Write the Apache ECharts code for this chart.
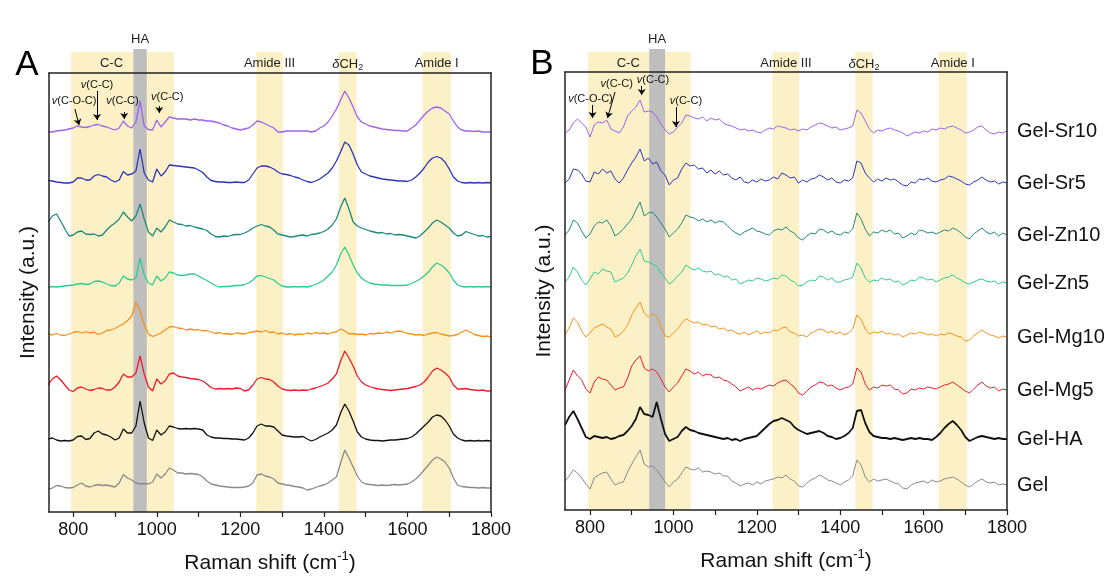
<!DOCTYPE html>
<html>
<head>
<meta charset="utf-8">
<script src="https://cdn.jsdelivr.net/npm/echarts@6/dist/echarts.min.js"></script>
<style>
  html, body { margin: 0; background: #fff; }
  #chart { width: 1110px; height: 588px; }
</style>
</head>
<body>
<div id="chart"></div>
<script>
// samples, top to bottom
var sampleNames = ['Gel-Sr10', 'Gel-Sr5', 'Gel-Zn10', 'Gel-Zn5', 'Gel-Mg10', 'Gel-Mg5', 'Gel-HA', 'Gel'];
var lineColors = ['#9d62ee', '#2b35b8', '#1e8a7e', '#2ecc8f', '#f7921e', '#ec1c2e', '#111111', '#8a8a8a'];

// raman shift sampling: 740..1800 cm-1, every 10
var shiftStart = 740, shiftStep = 10;

// vertical stacking offset of each trace (a.u.)
var offsetsA = [381, 329, 275, 225, 175, 121, 71, 24];
var offsetsB = [377, 327, 275, 227, 173, 120, 71, 25];

// panel A, intensity above each trace's baseline
var sr10A = [-1,-1,0,0.5,1,2,3,5,4,3.5, 4.5,6,6.5,5,4,2.5,1,3,10,5, 3,9,30,5,1.5,1,11,4,9,14,
  13,12,12,12,11,12,11,11,10,10, 9,8,6,5,3,2,1,2,3,6, 10,9,7,5,3,-1,-1,0,0,0,
  0,0,0,-1,0,3,5,9,15,22, 31,40,33,24,14,9,7,5,4,3, 2,1.5,1,0.5,0.5,0,0,3,6,11,
  16,20,23,24,23,20,17,10,4,1, 0,0,-0.5,0,-1,-1,-1];
var sr5A = [2.5,2,1,0.5,0,0,1,5,5,3, 3,7,8.5,7,6,3,1,3,11.5,8, 9,12,34,10,3,1,14,7,11,18,
  17.5,17,16.5,16,15.5,15,13,10.5,6,2.5, 1.5,1,1,0.5,0.5,1,0.5,0.5,3,9, 15,17,17,16,14,11,9,8.5,7.5,6,
  5,3,1.5,0.5,2,4,7,10,15,22, 31,41,38,29,18,11,9,7,6,5, 4,3.5,3,2.5,2,2,1.5,3,6,10,
  15,21,25,26.5,25,21,14,6,2,0.5, 0,0.5,0,0.5,0,0.5,0];
var zn10A = [15,21,23,16,8,1,2,5,6,3, 2.5,3,1,2,7,11,14,18,25,20, 16,21,33,18,5,1,9,5,10,17,
  15,13,12.5,11,11.5,10,9,8,6.5,3, 0.5,0,1,0.5,2,2.5,2.5,4,6,9, 11,12.5,11,10,7,3,2,1,0,0.5,
  1.5,2,1,2.5,3,4,5.5,8,12,18, 30,39,28,15,11,9,7.5,6,5,4, 4.5,3,3.5,2,2.5,2,1,0,-1,1,
  5,9,14,17,15,12,9,4,1,2, 5.5,4,2.5,1,1.5,0,0.5];
var zn5A = [0,0.5,0,0.5,1,1.5,2,3,3.5,2.5, 3,5.5,6,5,3,1.5,1,4,11,8, 7,9,29,12,4,2,11,6,9,15,
  14,12,11.5,12,13,13,11,8.5,6.5,4, 1.5,0,0.5,0.5,1,1.5,1.5,2.5,4,7, 11,11.5,10,8.5,7,3.5,1,0,0,0.5,
  0,0.5,0,1,2.5,4.5,7,11,15,22, 33,40,32,22,14,9,6,4,3,2.5, 2,2,1.5,1.5,1.5,1.5,2,3.5,5.5,8,
  11,15,20,24,22,19,14,7,2,0.5, 0,0.5,0,0.5,0,0.5,0];
var mg10A = [3,2,3.5,2,1.5,3,4.5,5.5,4,5.5, 4,5,2.5,4,6.5,7,8.5,11,13,16.5, 21,35,26,12,3,0.5,2,4,7,10,
  10.5,9,8.5,7,8,7,7.5,6,6.5,5, 3.5,4.5,3,3.5,2.5,4,3.5,3,4.5,5, 6,5,6.5,4.5,5,3,4,2.5,3.5,2,
  3,2.5,4,3,4.5,3.5,4,3,4.5,5, 8,6,3,3.5,2.5,3,2,3.5,3,4, 3.5,5,4,5.5,6,5,3.5,3,2,2.5,
  1.5,3,4,4.5,3,2,1,1.5,2.5,5, 7,5,2.5,1.5,0.5,1,0];
var mg5A = [6,12,15,11,6,1,-0.5,3,4,2, 0.5,1.5,3,2.5,1,1,4,9,17,14, 14,18,35,17,4,0,12,7,10,17,
  18,15,14,13.5,12.5,12,11.5,10,7,3.5, 2,2.5,2,2.5,2,3,2.5,0,1,6, 12,13.5,12,11.5,9,5,2,1,0.5,1,
  0.5,1,0.5,2,3,4.5,6,8,12,17, 30,40,33,25,15,9,6,4.5,3,2, 1.5,1,0.5,1,1.5,2,2.5,3.5,4.5,6,
  9,14,20,23,21,18,14,6,2,2, 2.5,1.5,1,0.5,1,0,0];
var haA = [2,3,1,0,0.5,0,1,4.5,5,1.5, 2.5,8,10,7,6,4,1,3,12,8, 8,15,40,18,3,0.5,11,6,9,15,
  14,12.5,12,12.5,12,12.5,12,11,6,4, 3,3,2.5,2.5,2,2,1.5,1,3,8, 15,17,15,15,14,10,6,5,4.5,4,
  4,4.5,2,0,1.5,4,6,8,11,16, 28,37,30,20,9,4,2,1,0.5,0.5, 0,0.5,1,1,1.5,2,2.5,4,7,11,
  15,19,24,26,25,21,15,7,3,1, 0,0.5,0,0.5,0,0.5,0];
var gelA = [-1.5,0,2.5,2,0.5,0,0.5,3,5,2, 1,2.5,3.5,2.5,3,2,1,5,13.5,10, 8,5,4,4.5,4,6,14,10,14,20,
  18,15,15,14,14.5,14,13.5,11,7,4, 3,2,1.5,1,0.5,0.5,0.5,1,2,5, 13,14,12,11,9,5,4,3,2.5,1.5,
  1,0,-2,-1,0.5,2,3,5,8,11, 25,38,30,21,12,6,4,3.5,3,2.5, 3,2.5,3,3.5,3,3.5,4,6,9,13,
  18,23,28,31,29,26,20,10,3,1.5, 1,0.5,0.5,0,0.5,0,0];

// panel B, intensity above each trace's baseline
var sr10B = [0,3,10,14,10,6,-4,8,11,10, 13,4,2,0,6,17,22,26,33,21, 22,21,16,9,3,-1,1,6,10,18,
  17,15,14,16,12,15,13,14,10,8, 7,5,3,4,2,3,1,0,3,5, 4,7,6,5,3,4,2,4,3,6,
  8,10,9,7,5,6,3,4,5,7, 23,20,12,4,0,3,2,4,5,3, 2,0,-3,-1,1,0,2,1,4,3,
  5,4,6,7,5,3,0,1,3,6, 7,3,0,-1,1,0,2];
var sr5B = [0,4,14,13,9,2,1,11,9,14, 10,12,4,0,5,13,20,26,34,22, 25,19,21,12,8,-2,3,5,14,20,
  17,18,14,15,10,13,9,12,8,9, 5,3,6,1,0,3,1,4,2,3, 6,4,10,8,5,6,0,3,1,4,
  5,8,6,3,5,1,0,3,2,5, 22,20,10,5,1,4,2,5,3,4, 1,-2,-3,1,0,4,3,5,2,1,
  3,4,7,6,4,2,-1,-2,1,3, 6,3,1,2,-1,1,0];
var zn10B = [0,5,15,12,4,-3,1,9,13,12, 15,9,-1,2,6,11,16,25,33,19, 22,23,18,12,6,-2,2,6,12,20,
  18,17,14,16,13,15,12,14,13,9, 5,2,0,3,5,7,4,3,1,0, 4,6,5,8,4,2,-3,-5,-1,2,
  1,6,5,2,4,1,0,3,2,6, 22,16,6,-1,3,2,5,3,5,1, 2,-3,-1,2,0,5,4,2,3,1,
  3,5,4,7,5,2,-2,-4,1,4, 7,3,1,3,-1,2,0];
var zn5B = [1,6,16,11,3,-2,4,11,9,14, 12,11,1,3,5,10,18,27,34,22, 21,19,17,10,5,-1,2,7,11,18,
  15,13,15,12,11,12,8,9,6,7, 3,4,-1,1,3,2,5,4,2,3, 5,4,8,7,3,1,-3,-2,1,3,
  2,7,6,3,5,1,1,3,4,6, 20,15,5,1,3,2,5,3,4,1, 2,-2,0,3,2,6,5,3,4,1,
  3,5,6,8,5,3,0,-1,1,3, 4,2,1,2,-1,1,0];
var mg10B = [2,9,19,15,6,0,4,9,11,13, 10,8,0,2,6,12,22,29,35,24, 20,23,20,10,1,0,4,8,14,18,
  16,14,15,12,13,10,11,8,9,6, 7,4,3,5,2,4,6,3,5,4, 7,6,9,10,5,4,1,2,0,4,
  6,8,7,4,6,3,5,2,4,8, 22,18,8,3,5,4,6,3,4,2, 3,0,2,4,3,5,4,2,3,1,
  3,2,4,3,1,0,-4,-3,1,4, 7,4,2,1,-1,1,0];
var mg5B = [0,10,20,14,10,1,-3,8,13,11, 10,5,0,2,3,12,24,30,34,22, 19,21,18,11,3,-2,3,7,14,21,
  19,16,18,14,16,15,12,13,10,9, 6,3,-1,1,3,0,2,1,3,5, 4,7,9,10,6,3,-3,-5,-1,3,
  5,8,7,4,5,2,0,2,3,6, 22,18,6,0,3,2,5,4,5,1, 0,-4,-3,1,0,2,1,3,2,1,
  3,5,6,8,5,2,-1,-3,1,5, 8,4,2,3,-1,1,0];
var haB = [14,22,28,20,11,2,0,3,2,1, 2,0,1,3,4,8,13,20,32,25, 24,22,37,20,5,-2,0,2,8,12,
  9,8,6,5,4,3,2,1,0,1, -1,0,-2,0,1,2,3,7,11,15, 18,19,21,19,17,12,9,7,5,6,
  7,8,6,3,2,0,1,3,6,11, 28,29,16,7,3,2,1,1,0,1, 0,-1,0,1,0,1,0,0,-1,2,
  6,11,15,18,14,9,2,-2,0,2, 3,2,1,0,1,0,0];
var gelB = [4,9,15,12,7,1,-4,7,10,12, 13,6,0,2,3,13,21,28,35,21, 18,19,15,9,3,-2,3,6,12,18,
  16,15,17,13,14,13,11,12,9,9, 4,2,-1,1,2,0,3,1,4,5, 6,8,7,10,6,4,-1,-2,2,5,
  7,10,8,5,4,2,0,3,5,9, 25,20,8,3,6,4,5,6,4,2, 1,-3,-4,0,2,3,4,2,5,3,
  4,6,7,8,6,3,0,-2,1,4, 6,3,2,3,0,1,0];

var tracesA = [sr10A, sr5A, zn10A, zn5A, mg10A, mg5A, haA, gelA];
var tracesB = [sr10B, sr5B, zn10B, zn5B, mg10B, mg5B, haB, gelB];

// highlighted bands [from, to, label]
var bandRanges = [[795, 1041, 'C-C'], [1238, 1302, 'Amide III'], [1436, 1478, '{i|δ}CH{s|2}'], [1636, 1704, 'Amide I']];
var haRangeA = [944, 976];
var haRangeB = [942, 980];

var tickValues = [800, 900, 1000, 1100, 1200, 1300, 1400, 1500, 1600, 1700, 1800];
var labelValues = [800, 1000, 1200, 1400, 1600, 1800];

// peak annotations: arrows [from, to] and texts [x, y, text]
var arrowsA = [[[804, 403], [814, 387]], [[857, 421], [857, 392]], [[922, 400], [922, 393]], [[1006, 406], [1006, 399]]];
var arrowTextsA = [[802, 411, '{i|v}(C-O-C)'], [857, 427, '{i|v}(C-C)'], [918, 411, '{i|v}(C-C)'], [1025, 415, '{i|v}(C-C)']];
var arrowsB = [[[806, 405], [806, 392]], [[860, 418], [842, 392]], [[924, 424], [924, 415]], [[1006, 403], [1006, 383]]];
var arrowTextsB = [[801, 411, '{i|v}(C-O-C)'], [864, 426, '{i|v}(C-C)'], [951, 430, '{i|v}(C-C)'], [1030, 409, '{i|v}(C-C)']];

var FONT = 'Liberation Sans, Arial, sans-serif';
var YELLOW = '#fcf1c6';
var GRAY = '#bebebe';

function toPairs(heights, base) {
  return heights.map(function (h, i) {
    return [shiftStart + i * shiftStep, base + h];
  });
}

function mainAxes(grid, xmin, ymax) {
  var xs = [{
    type: 'value', gridIndex: grid, min: xmin, max: 1800, z: 5,
    axisLine: {show: true, lineStyle: {color: '#222', width: 1.5}},
    axisTick: {show: true, inside: false, length: 5, customValues: tickValues, lineStyle: {color: '#222', width: 1.2}},
    axisLabel: {
      show: true, customValues: labelValues, fontSize: 18, color: '#111', margin: 9,
      formatter: function (v) { return String(v); }
    },
    splitLine: {show: false},
    name: '{n|Raman shift (cm}{sup|-1}{n|)}',
    nameLocation: 'middle', nameGap: 38,
    nameTextStyle: {
      rich: {
        n: {fontSize: 21, color: '#111', lineHeight: 26, fontFamily: FONT},
        sup: {fontSize: 13, color: '#111', verticalAlign: 'top', lineHeight: 14, fontFamily: FONT}
      }
    }
  }, {
    type: 'value', gridIndex: grid, min: xmin, max: 1800, position: 'top', z: 5,
    axisLine: {show: true, onZero: false, lineStyle: {color: '#222', width: 1.5}},
    axisTick: {show: false}, axisLabel: {show: false}, splitLine: {show: false}
  }];
  var ys = [{
    type: 'value', gridIndex: grid, min: 0, max: ymax, z: 5,
    axisLine: {show: true, onZero: false, lineStyle: {color: '#222', width: 1.5}},
    axisTick: {show: false}, axisLabel: {show: false}, splitLine: {show: false},
    name: 'Intensity (a.u.)', nameLocation: 'middle', nameGap: 10,
    nameTextStyle: {fontSize: 21, color: '#111'}
  }, {
    type: 'value', gridIndex: grid, min: 0, max: ymax, position: 'right', z: 5,
    axisLine: {show: true, onZero: false, lineStyle: {color: '#222', width: 1.5}},
    axisTick: {show: false}, axisLabel: {show: false}, splitLine: {show: false}
  }];
  return {x: xs, y: ys};
}

function bandAxes(grid, xmin, ymax) {
  return {
    x: [{type: 'value', gridIndex: grid, min: xmin, max: 1800, show: false}],
    y: [{type: 'value', gridIndex: grid, min: 0, max: ymax, show: false}]
  };
}

function bandSeries(axisIdx, haRange, yellowTop, grayTop) {
  var areas = bandRanges.map(function (b, i) {
    var first = {name: b[2], xAxis: b[0], yAxis: 0, itemStyle: {color: YELLOW}};
    if (i === 0) first.label = {offset: [-11, 0]};
    return [first, {xAxis: b[1], yAxis: yellowTop}];
  });
  areas.push([{name: 'HA', xAxis: haRange[0], yAxis: 0, itemStyle: {color: GRAY},
    label: {position: 'top', distance: 3}}, {xAxis: haRange[1], yAxis: grayTop}]);
  return {
    type: 'line', xAxisIndex: axisIdx, yAxisIndex: axisIdx, data: [], silent: true,
    markArea: {
      silent: true,
      label: {
        show: true, position: 'insideTop', distance: 5, fontSize: 13, color: '#222',
        rich: {
          i: {fontSize: 13, fontStyle: 'italic', color: '#222', lineHeight: 15},
          s: {fontSize: 9, color: '#222', verticalAlign: 'bottom', lineHeight: 10}
        }
      },
      data: areas
    }
  };
}

function traceSeries(traces, offsets, axisIdx, panelB, arrows, arrowTexts) {
  return traces.map(function (t, k) {
    var s = {
      type: 'line', name: sampleNames[k], xAxisIndex: axisIdx, yAxisIndex: axisIdx,
      data: toPairs(t, offsets[k]), showSymbol: false, symbol: 'none', z: 3,
      lineStyle: {color: lineColors[k], width: panelB ? (k === 6 ? 1.8 : 1) : 1.3},
      itemStyle: {color: lineColors[k]}
    };
    if (panelB) {
      s.endLabel = {show: true, formatter: '{a}', fontSize: 20, color: '#111', distance: 10, padding: [0, 0, 14, 0]};
    }
    if (k === 0) {
      s.markLine = {
        silent: true, symbol: ['none', 'arrow'], symbolSize: 6,
        lineStyle: {color: '#000', width: 1, type: 'solid'},
        label: {show: false},
        data: arrows.map(function (a) { return [{coord: a[0]}, {coord: a[1]}]; })
      };
      s.markPoint = {
        silent: true, symbol: 'circle', symbolSize: 1,
        itemStyle: {color: 'rgba(0,0,0,0)'},
        label: {
          show: true, position: 'inside', color: '#111', fontSize: 11,
          formatter: function (p) { return p.name; },
          rich: {i: {fontStyle: 'italic', fontSize: 11, color: '#111'}}
        },
        data: arrowTexts.map(function (a) { return {name: a[2], coord: [a[0], a[1]]}; })
      };
    }
    return s;
  });
}

var mA = mainAxes(0, 742, 439);
var bA = bandAxes(1, 742, 463);
var mB = mainAxes(2, 740, 438);
var bB = bandAxes(3, 740, 461);

var option = {
  backgroundColor: '#fff',
  animation: false,
  textStyle: {fontFamily: FONT},
  grid: [
    {left: 49, width: 442, top: 73, height: 439},
    {left: 49, width: 442, top: 49, height: 463},
    {left: 565, width: 442, top: 72, height: 438},
    {left: 565, width: 442, top: 49, height: 461}
  ],
  // axis order: 0 A bottom, 1 A top, 2 A band, 3 B bottom, 4 B top, 5 B band
  xAxis: [mA.x[0], mA.x[1], bA.x[0], mB.x[0], mB.x[1], bB.x[0]],
  yAxis: [mA.y[0], mA.y[1], bA.y[0], mB.y[0], mB.y[1], bB.y[0]],
  graphic: [
    {type: 'text', x: 27, y: 65, style: {text: 'A', fontSize: 35, fontFamily: FONT, fill: '#000', align: 'center', verticalAlign: 'middle'}},
    {type: 'text', x: 542, y: 64, style: {text: 'B', fontSize: 35, fontFamily: FONT, fill: '#000', align: 'center', verticalAlign: 'middle'}}
  ],
  series: [bandSeries(2, haRangeA, 460, 463), bandSeries(5, haRangeB, 458, 461)]
    .concat(traceSeries(tracesA, offsetsA, 0, false, arrowsA, arrowTextsA))
    .concat(traceSeries(tracesB, offsetsB, 3, true, arrowsB, arrowTextsB))
};

var chart = echarts.init(document.getElementById('chart'));
chart.setOption(option);
</script>
</body>
</html>
